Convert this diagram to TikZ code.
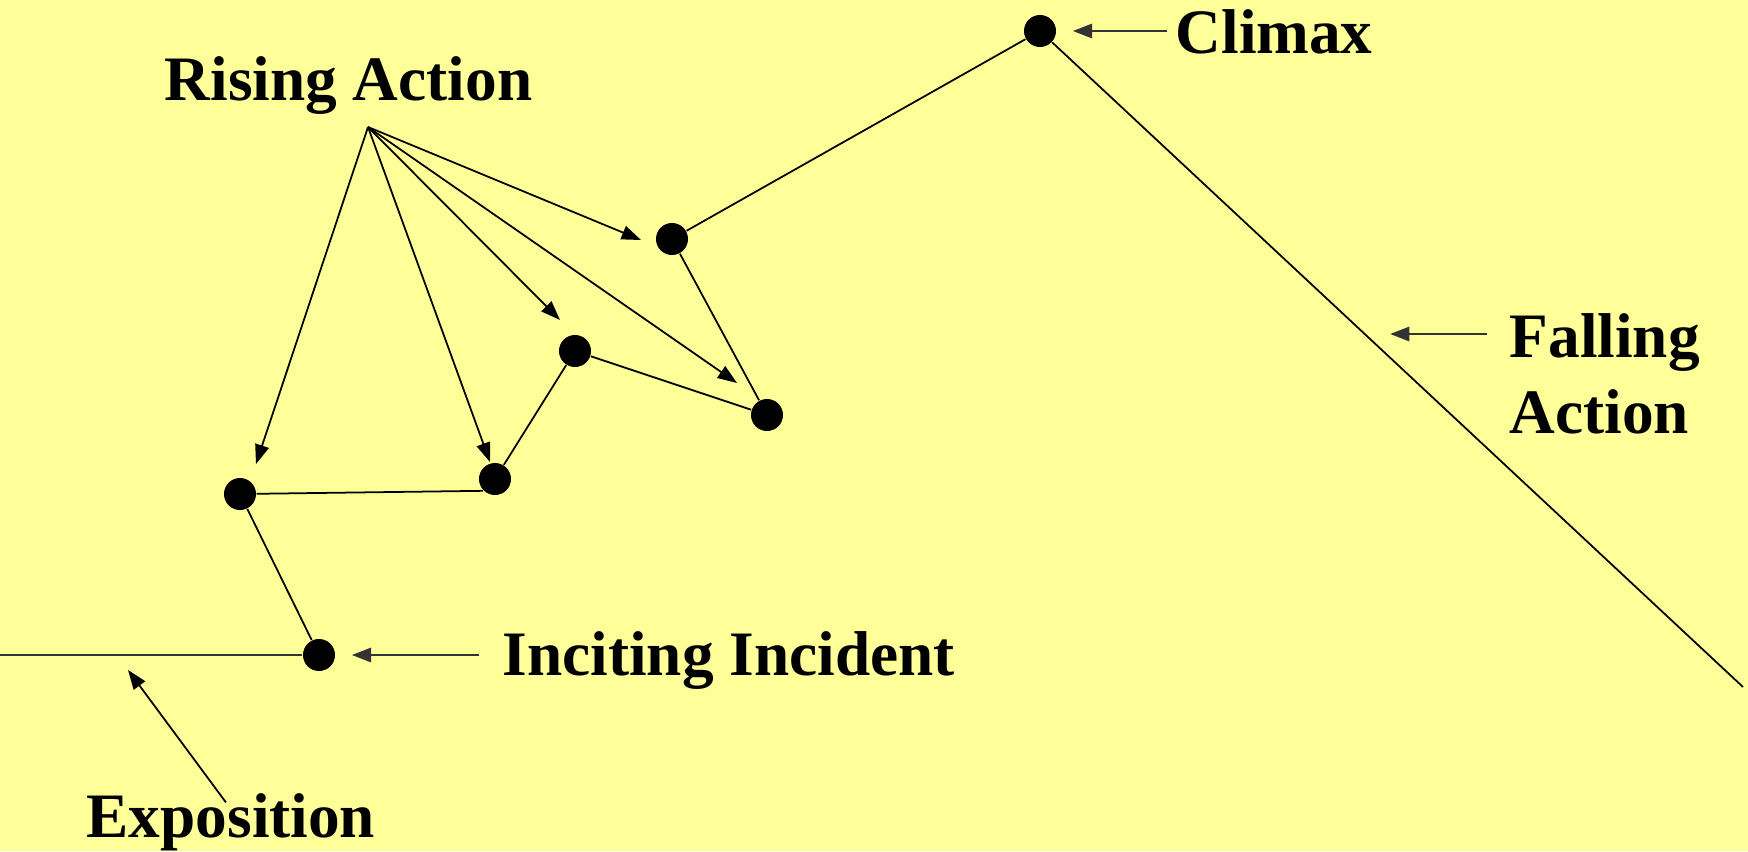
\documentclass[tikz,border=0pt]{standalone}
\usepackage{fontspec}
\setmainfont{Liberation Serif}
\usepackage{xcolor}
\usepackage{tikz}
\usetikzlibrary{arrows.meta}

\definecolor{paleyellow}{RGB}{255,255,153}

\begin{document}
\begin{tikzpicture}[x=0.01cm, y=-0.01cm,
    every node/.style={font=\fontsize{18}{21.6}\selectfont\bfseries, inner sep=0pt},
    dot/.style={circle, fill=black, minimum size=0.32cm},
    arr/.style={-{Triangle[length=5.5pt,width=4pt]}, line width=0.5pt},
    thickarr/.style={-{Triangle[length=5.5pt,width=4pt]}, line width=0.8pt, black!80}]
            \fill[paleyellow] (0,0) rectangle (1748,851);
            \useasboundingbox (0,0) rectangle (1748,851);

            % plot points
            \node[dot] (climax) at (1040,31) {};
            \node[dot] (d1) at (672,239) {};
            \node[dot] (d2) at (575,351) {};
            \node[dot] (d3) at (767,415) {};
            \node[dot] (d4) at (495,479) {};
            \node[dot] (d5) at (240,494) {};
            \node[dot] (inc) at (319,655) {};
            \coordinate (expstart) at (0,655);
            \coordinate (fallend) at (1743,687);

            % story line
            \draw[line width=0.8pt, black!80] (expstart) -- (inc);
            \draw[line width=0.5pt] (inc) -- (d5);
            \draw[line width=0.5pt] (d5) -- (d4.south west);
            \draw[line width=0.5pt] (d4) -- (d2) -- (d3) -- (d1) -- (climax);
            \draw[line width=0.5pt] (climax) -- (fallend);

            % labels
            \node[anchor=base west] (lblRise) at (164,100) {Rising Action};
            \node[anchor=base west] (lblClimax) at (1175,53) {Climax};
            \node[anchor=base west, align=left] (lblFall) at (1509,433) {Falling\\Action};
            \node[anchor=base west] (lblInc) at (502,675) {Inciting Incident};
            \node[anchor=base west] (lblExpo) at (86,837) {Exposition};

            % Rising Action pointers
            \coordinate (apex) at (368,127);
            \coordinate (t1) at (641,240);
            \coordinate (t2) at (560,320);
            \coordinate (t3) at (737,383);
            \coordinate (t4) at (490,462);
            \coordinate (t5) at (256,464);
            \foreach \t in {t1,t2,t3,t4,t5}
                \draw[arr] (apex) -- (\t);

            % other pointers
            \draw[thickarr, shorten >=0.16cm] ([xshift=-0.08cm]lblClimax.west |- climax) -- (climax);
            \draw[thickarr, shorten >=0.16cm] ([xshift=-0.23cm]lblInc.west |- inc) -- (inc);
            \coordinate (fallpt) at (1390,334);
            \draw[thickarr] ([xshift=-0.22cm]lblFall.west |- fallpt) -- (fallpt);
            \coordinate (expopt) at (128,670);
            \draw[arr] ([xshift=-0.05cm, yshift=-0.1cm]lblExpo.north) -- (expopt);
        \end{tikzpicture}
\end{document}
